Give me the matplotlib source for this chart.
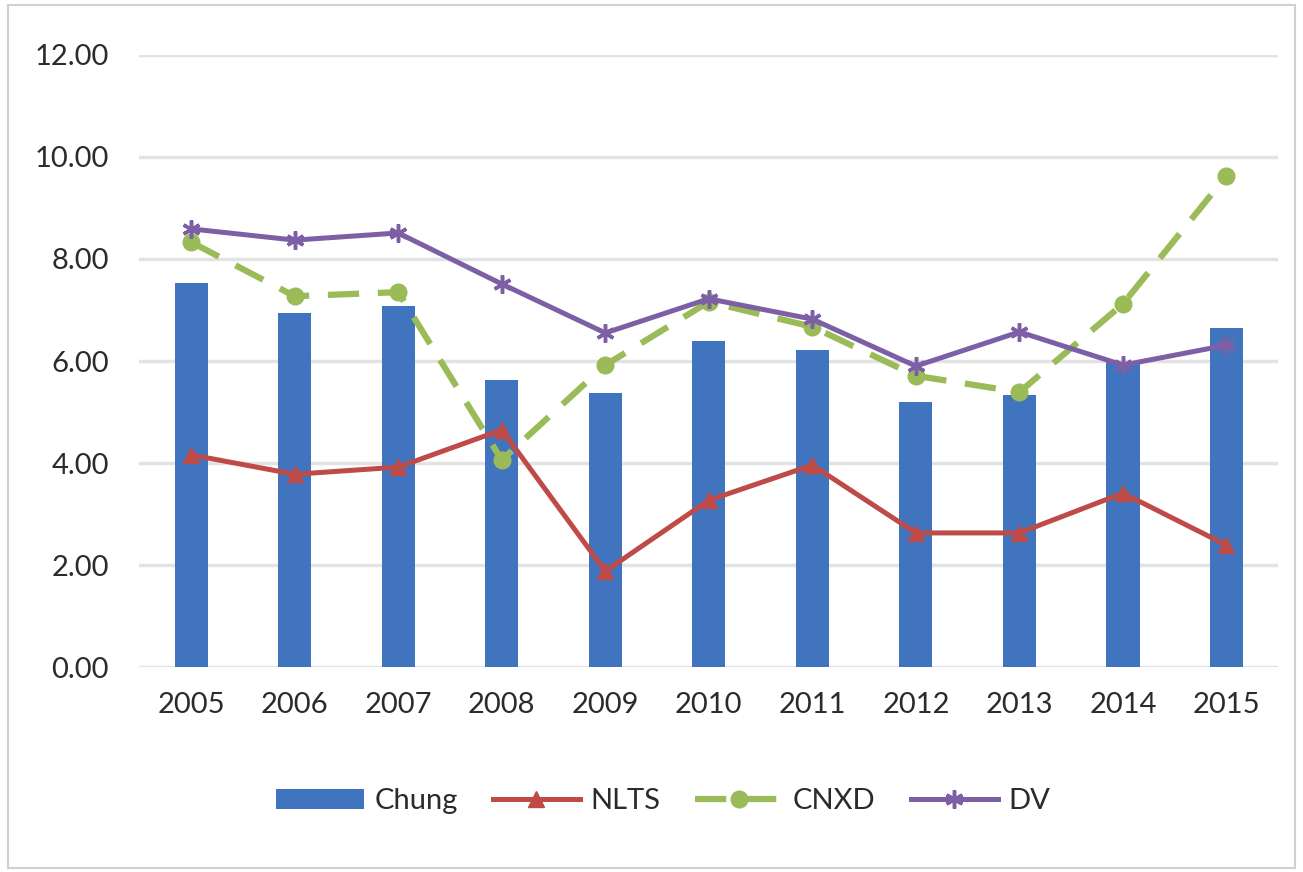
import matplotlib.pyplot as plt
from matplotlib.patches import Rectangle

# du lieu doc tu hinh
nam = ['2005', '2006', '2007', '2008', '2009', '2010', '2011', '2012', '2013', '2014', '2015']
chung = [7.52, 6.94, 7.07, 5.63, 5.37, 6.39, 6.22, 5.20, 5.33, 5.98, 6.65]
nlts = [4.16, 3.78, 3.92, 4.65, 1.88, 3.27, 3.96, 2.63, 2.63, 3.41, 2.39]
cnxd = [8.33, 7.27, 7.35, 4.06, 5.92, 7.16, 6.67, 5.71, 5.39, 7.12, 9.63]
dv = [8.59, 8.37, 8.51, 7.51, 6.55, 7.22, 6.82, 5.90, 6.57, 5.92, 6.31]
yticks = [0, 2, 4, 6, 8, 10, 12]

plt.rcParams['font.family'] = ['Lato', 'DejaVu Sans']

fig = plt.figure(figsize=(13.03, 8.72), dpi=100)
ax = fig.add_axes([0.107, 0.235, 0.874, 0.702])

x = list(range(len(nam)))
b = ax.bar(x, chung, width=0.32, color='#4174BE', label='Chung', zorder=2)
l1, = ax.plot(x, nlts, color='#BE4B48', lw=3.6, marker='^', ms=11, label='NLTS', zorder=3)
l2, = ax.plot(x, cnxd, color='#9BBB59', lw=4.5, ls=(0, (5, 3)), marker='o', ms=12,
              label='CNXD', zorder=3)
l3, = ax.plot(x, dv, color='#7D5FA5', lw=3.6, marker=(6, 2, 0), ms=13, mew=2.5,
              label='DV', zorder=4)

ax.set_xlim(-0.5, len(nam) - 0.5)
ax.set_ylim(0, 12)
ax.set_xticks(x)
ax.set_xticklabels(nam)
ax.set_yticks(yticks)
ax.set_yticklabels([f'{v:.2f}' for v in yticks])
ax.tick_params(axis='both', length=0, labelsize=21, colors='#2B2B2B')
ax.tick_params(axis='y', pad=22)
ax.tick_params(axis='x', pad=18)
ax.grid(axis='y', color='#E3E3E3', lw=2.5, zorder=0)
for s in ax.spines.values():
    s.set_visible(False)

ax.legend([b, l1, l2, l3], ['Chung', 'NLTS', 'CNXD', 'DV'],
          loc='upper center', bbox_to_anchor=(0.46, -0.155), ncol=4, frameon=False,
          fontsize=21, handlelength=3.0, columnspacing=1.2, handletextpad=0.35,
          labelcolor='#2B2B2B')

fig.patches.append(Rectangle((0.006, 0.005), 0.988, 0.989, transform=fig.transFigure,
                             fill=False, ec='#D0D0D0', lw=1.5))

plt.savefig('out.png', dpi=100)
